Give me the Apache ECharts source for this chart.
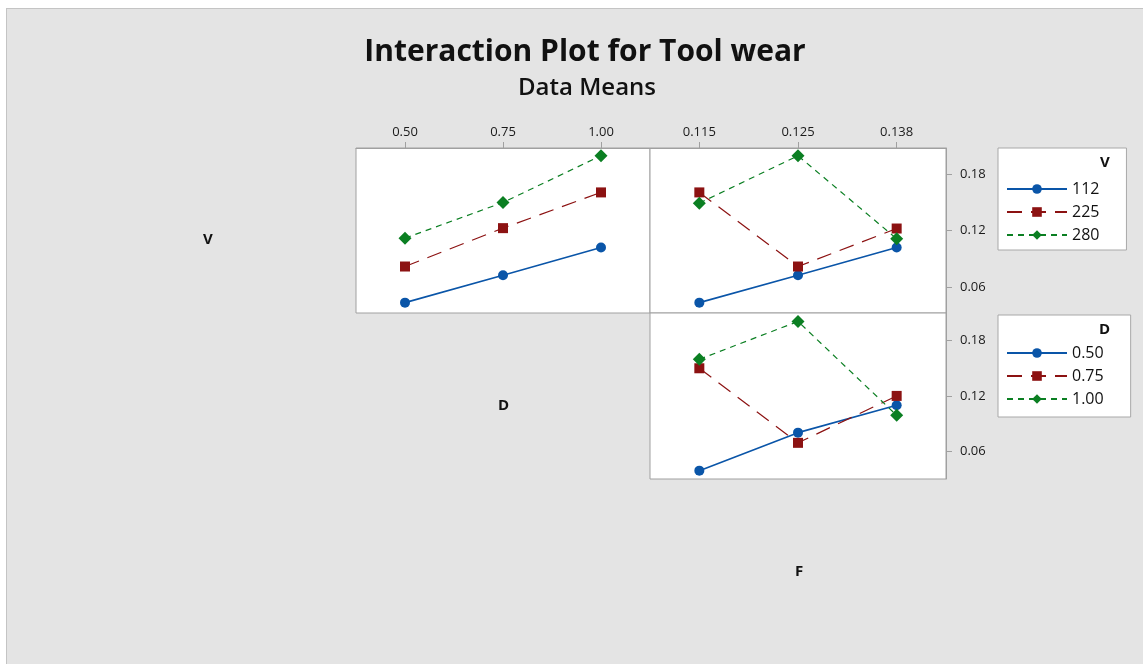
<!DOCTYPE html>
<html>
<head>
<meta charset="utf-8">
<script src="https://cdn.jsdelivr.net/npm/echarts@6/dist/echarts.min.js"></script>
<style>
  html, body { margin: 0; padding: 0; background: #fff; }
  #bg { position: absolute; left: 6px; top: 8px; width: 1137px; height: 656px; background: #e4e4e4; border-left: 1px solid #c4c4c4; border-top: 1px solid #c4c4c4; box-sizing: border-box; }
  #chart { position: absolute; left: 0; top: 0; width: 1143px; height: 664px; }
</style>
</head>
<body>
<div id="bg"></div>
<div id="chart"></div>
<script>
// factor levels
const levelsV = ['112', '225', '280'];
const levelsD = ['0.50', '0.75', '1.00'];
const levelsF = ['0.115', '0.125', '0.138'];
const yTicks = [0.06, 0.12, 0.18];

// means of Tool wear, V lines vs D
const vByD_112 = [0.0435, 0.0726, 0.1019];
const vByD_225 = [0.0818, 0.1225, 0.1604];
const vByD_280 = [0.1119, 0.1497, 0.1993];
// V lines vs F
const vByF_112 = [0.0435, 0.0726, 0.1019];
const vByF_225 = [0.1604, 0.0818, 0.1221];
const vByF_280 = [0.1490, 0.1993, 0.1112];
// D lines vs F
const dByF_050 = [0.0394, 0.0804, 0.1099];
const dByF_075 = [0.1498, 0.0694, 0.1200];
const dByF_100 = [0.1595, 0.2003, 0.0991];

const FONT = '"Open Sans", "Noto Sans", sans-serif';
const colors = ['#0a55a8', '#8c1212', '#0b7f22'];
const lineTypes = ['solid', [15, 9], [6, 5]];
const symbols = ['circle', 'rect', 'diamond'];
const symSizes = [10, 10, 13];

const chart = echarts.init(document.getElementById('chart'));

function mkSeries(name, data, k, idx) {
  return {
    name: name,
    type: 'line',
    xAxisIndex: idx,
    yAxisIndex: idx,
    data: data,
    symbol: symbols[k],
    symbolSize: symSizes[k],
    itemStyle: { color: colors[k] },
    lineStyle: { color: colors[k], width: k === 0 ? 1.6 : 1.2, type: lineTypes[k] },
    animation: false
  };
}

const axisGray = '#a0a0a0';
function xAx(idx, cats, showLabels) {
  return {
    type: 'category',
    gridIndex: idx,
    data: cats,
    position: 'top',
    boundaryGap: true,
    show: showLabels,
    axisLine: { show: true, lineStyle: { color: axisGray } },
    axisTick: { show: true, alignWithLabel: true, length: 6, lineStyle: { color: axisGray } },
    axisLabel: { color: '#1a1a1a', fontSize: 13, fontFamily: FONT, margin: 9 },
    splitLine: { show: false }
  };
}
function yAx(idx, min, max, showLabels) {
  return {
    type: 'value',
    gridIndex: idx,
    min: min,
    max: max,
    position: 'right',
    show: showLabels,
    axisLine: { show: true, lineStyle: { color: axisGray } },
    axisTick: { show: true, length: 6, customValues: yTicks, lineStyle: { color: axisGray } },
    axisLabel: { color: '#1a1a1a', fontSize: 13, fontFamily: FONT, margin: 14, customValues: yTicks,
      formatter: v => v.toFixed(2) },
    splitLine: { show: false }
  };
}

const gridBase = { show: true, backgroundColor: '#fff', borderColor: '#a0a0a0', borderWidth: 1 };

const legendBase = {
  orient: 'vertical',
  left: 998,
  backgroundColor: '#fff',
  borderColor: '#a8a8a8',
  borderWidth: 1,
  itemWidth: 60,
  itemHeight: 12,
  itemGap: 5,
  textStyle: { fontSize: 16, lineHeight: 18, color: '#111', fontFamily: FONT },
  selectedMode: false
};

const nameText = (t, x, y, size) => ({
  type: 'text', left: x, top: y, z: 100,
  style: { text: t, fontSize: size, fontWeight: 'bold', fill: '#111', fontFamily: FONT }
});

chart.setOption({
  backgroundColor: 'transparent',
  textStyle: { fontFamily: FONT },
  title: [
    { text: 'Interaction Plot for Tool wear', left: 580, top: 32, textAlign: 'center',
      textStyle: { fontSize: 30, fontWeight: 'bold', color: '#111', fontFamily: FONT } },
    { text: 'Data Means', left: 582, top: 71, textAlign: 'center',
      textStyle: { fontSize: 24, fontWeight: 600, color: '#111', fontFamily: FONT } }
  ],
  grid: [
    Object.assign({ left: 356, top: 148, width: 294, height: 165 }, gridBase),
    Object.assign({ left: 650, top: 148, width: 296, height: 165 }, gridBase),
    Object.assign({ left: 650, top: 313, width: 296, height: 166 }, gridBase)
  ],
  xAxis: [xAx(0, levelsD, true), xAx(1, levelsF, true), xAx(2, levelsF, false)],
  yAxis: [yAx(0, 0.0325, 0.2075, false), yAx(1, 0.0325, 0.2075, true), yAx(2, 0.0304, 0.2094, true)],
  legend: [
    Object.assign({ data: levelsV, top: 148, padding: [32, 27, 6, 8] }, legendBase),
    Object.assign({ data: levelsD, top: 315, padding: [29, 27, 9, 8] }, legendBase)
  ],
  graphic: [
    nameText('V', 1100, 155, 15),
    nameText('D', 1099, 322, 15),
    nameText('V', 203, 232, 15),
    nameText('D', 498, 398, 15),
    nameText('F', 795, 564, 15)
  ],
  series: [
    mkSeries(levelsV[0], vByD_112, 0, 0),
    mkSeries(levelsV[1], vByD_225, 1, 0),
    mkSeries(levelsV[2], vByD_280, 2, 0),
    mkSeries(levelsV[0], vByF_112, 0, 1),
    mkSeries(levelsV[1], vByF_225, 1, 1),
    mkSeries(levelsV[2], vByF_280, 2, 1),
    mkSeries(levelsD[0], dByF_050, 0, 2),
    mkSeries(levelsD[1], dByF_075, 1, 2),
    mkSeries(levelsD[2], dByF_100, 2, 2)
  ]
});
</script>
</body>
</html>
